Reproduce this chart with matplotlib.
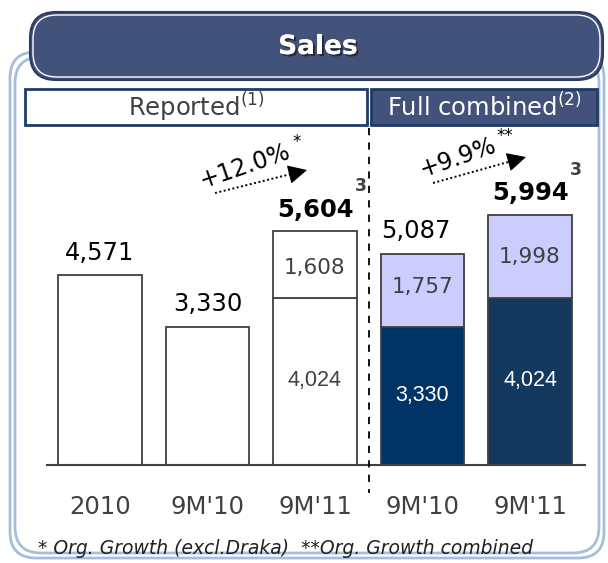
import matplotlib
matplotlib.use("Agg")
import matplotlib.pyplot as plt
from matplotlib.patches import FancyBboxPatch, Rectangle
import matplotlib.patheffects as pe

# ---- data ----
categories = ["2010", "9M'10", "9M'11", "9M'10", "9M'11"]
base_values = [4571, 3330, 4024, 3330, 4024]
top_values = [0, 0, 1608, 1757, 1998]
totals = [4571, 3330, 5604, 5087, 5994]
growth_labels = ["+12.0%", "+9.9%"]
growth_marks = ["*", "**"]
section_labels = ["Reported", "Full combined"]
footnote = "* Org. Growth (excl.Draka)  **Org. Growth combined"

W, H = 608, 563
fig = plt.figure(figsize=(W / 100, H / 100), dpi=100)
fig.patch.set_facecolor("white")

# overlay axes in pixel coordinates
ov = fig.add_axes([0, 0, 1, 1])
ov.set_xlim(0, W)
ov.set_ylim(H, 0)
ov.axis("off")

# outer light-blue frame (double line)
for off, lw in [(0, 2.0), (5, 2.0)]:
    fr = FancyBboxPatch((10 + off, 52 + off), 594 - 2 * off, 506 - 2 * off,
                        boxstyle="round,pad=0,rounding_size=26",
                        fc="none", ec="#a6bedb", lw=lw, zorder=1)
    ov.add_patch(fr)

# header
hdr = FancyBboxPatch((30, 12), 573, 68, boxstyle="round,pad=0,rounding_size=26",
                     fc="#42527a", ec="#2c3b62", lw=1.5, zorder=3)
ov.add_patch(hdr)
hdr2 = FancyBboxPatch((33, 15), 567, 62, boxstyle="round,pad=0,rounding_size=24",
                      fc="none", ec="white", lw=1.0, zorder=3)
ov.add_patch(hdr2)
ov.text(318, 47, "Sales", color="white", fontsize=19, fontweight="bold",
        ha="center", va="center", zorder=4,
        path_effects=[pe.withSimplePatchShadow(offset=(1.5, -1.5), shadow_rgbFace="#222222", alpha=0.8), pe.Normal()])

# section boxes
ov.add_patch(Rectangle((25, 89), 342, 36, fc="white", ec="#1f3b66", lw=2, zorder=3))
ov.add_patch(Rectangle((371, 89), 226, 36, fc="#42527a", ec="#1f3b66", lw=2, zorder=3))
ov.text(196, 107, section_labels[0] + r"$^{(1)}$", color="#404040", fontsize=17.5,
        ha="center", va="center", zorder=4)
ov.text(484, 107, section_labels[1] + r"$^{(2)}$", color="white", fontsize=17.5,
        ha="center", va="center", zorder=4)

# footnote
ov.text(38, 548, footnote, fontsize=13.5, style="italic", color="#202020",
        ha="left", va="center")

# ---- bar axes ----
px_per_unit = 190 / 4571.0
y_base_px = 465
y_top_px = 128
ymax = (y_base_px - y_top_px) / px_per_unit
x_left_px, x_right_px = 47, 585
ax = fig.add_axes([x_left_px / W, (H - y_base_px) / H,
                   (x_right_px - x_left_px) / W, (y_base_px - y_top_px) / H])
ax.patch.set_alpha(0)
spacing = 107.5
x0_px = 100
ax.set_xlim((x_left_px - x0_px) / spacing, (x_right_px - x0_px) / spacing)
ax.set_ylim(0, ymax)
for s in ["top", "right", "left"]:
    ax.spines[s].set_visible(False)
ax.spines["bottom"].set_color("#404040")
ax.spines["bottom"].set_linewidth(1.5)
ax.set_yticks([])
xs = list(range(len(categories)))
ax.set_xticks(xs)
ax.set_xticklabels(categories, fontsize=17.5, color="#404040")
ax.tick_params(axis="x", length=0, pad=21.5)

bw = 0.78
base_colors = ["white", "white", "white", "#003366", "#14395f"]
top_colors = ["white", "white", "white", "#ccccff", "#ccccff"]
for i in xs:
    ax.bar(i, base_values[i], width=bw, color=base_colors[i], edgecolor="#404040", lw=1.3, zorder=2)
    if top_values[i]:
        ax.bar(i, top_values[i], bottom=base_values[i], width=bw, color=top_colors[i],
               edgecolor="#404040", lw=1.3, zorder=2)

# inner labels (base segments, Arial-like)
inner_font = "Liberation Sans"
base_offsets = [0, 0, 30, 0, 10]
base_colors_txt = ["#404040", "#404040", "#404040", "white", "white"]
for i in [2, 3, 4]:
    ax.text(i, base_values[i] / 2 + base_offsets[i], f"{base_values[i]:,}", ha="center",
            va="center", fontsize=15.5, color=base_colors_txt[i], family=inner_font)
# top segments
top_offsets = [0, 0, -90, 74, -20]
for i in [2, 3, 4]:
    ax.text(i, base_values[i] + top_values[i] / 2 + top_offsets[i], f"{top_values[i]:,}",
            ha="center", va="center", fontsize=15.5, color="#404040")

# totals
gap = 540
bold = [False, False, True, False, True]
xshift = [0, 0, 0, -0.06, 0]
for i in xs:
    ax.text(i + xshift[i], totals[i] + gap, f"{totals[i]:,}", ha="center", va="center",
            fontsize=17.5, color="black", fontweight="bold" if bold[i] else "normal")
for i in [2, 4]:
    ax.text(i + 0.43, totals[i] + gap + 560, "3", fontsize=12.5, fontweight="bold",
            color="#404040", ha="center", va="center")

# dashed divider
ax.plot([2.5, 2.5], [ymax, -28 / px_per_unit], ls=(0, (4, 4)), color="black", lw=1.3,
        clip_on=False, zorder=3)

# growth arrows: dotted shaft + solid head
arrows = [((1.07, 6543), (1.926, 7097)), ((3.098, 6784), (3.963, 7409))]
for (a, b) in arrows:
    dxp = (b[0] - a[0]) * spacing
    dyp = (b[1] - a[1]) * px_per_unit
    L = (dxp ** 2 + dyp ** 2) ** 0.5
    hl = 16.0  # head length px
    hx = b[0] - dxp / L * hl / spacing
    hy = b[1] - dyp / L * hl / px_per_unit
    ax.plot([a[0], hx], [a[1], hy], ls=(0, (1, 1.3)), lw=1.4, color="black",
            clip_on=False)
    ax.annotate("", xy=b, xytext=(hx, hy),
                arrowprops=dict(arrowstyle="-|>,head_length=1.2,head_width=0.6",
                                lw=0.8, color="black", shrinkA=0, shrinkB=0),
                annotation_clip=False)
label_pos = [(1.349, 7200), (3.33, 7390)]
for (x, y), lab in zip(label_pos, growth_labels):
    ax.text(x, y, lab, rotation=19, fontsize=17, ha="center", va="center", color="black",
            rotation_mode="anchor")
mark_pos = [(1.83, 7780), (3.77, 7920)]
for (x, y), mk in zip(mark_pos, growth_marks):
    ax.text(x, y, mk, fontsize=12, ha="center", va="center")

fig.savefig("out.png", dpi=100)
